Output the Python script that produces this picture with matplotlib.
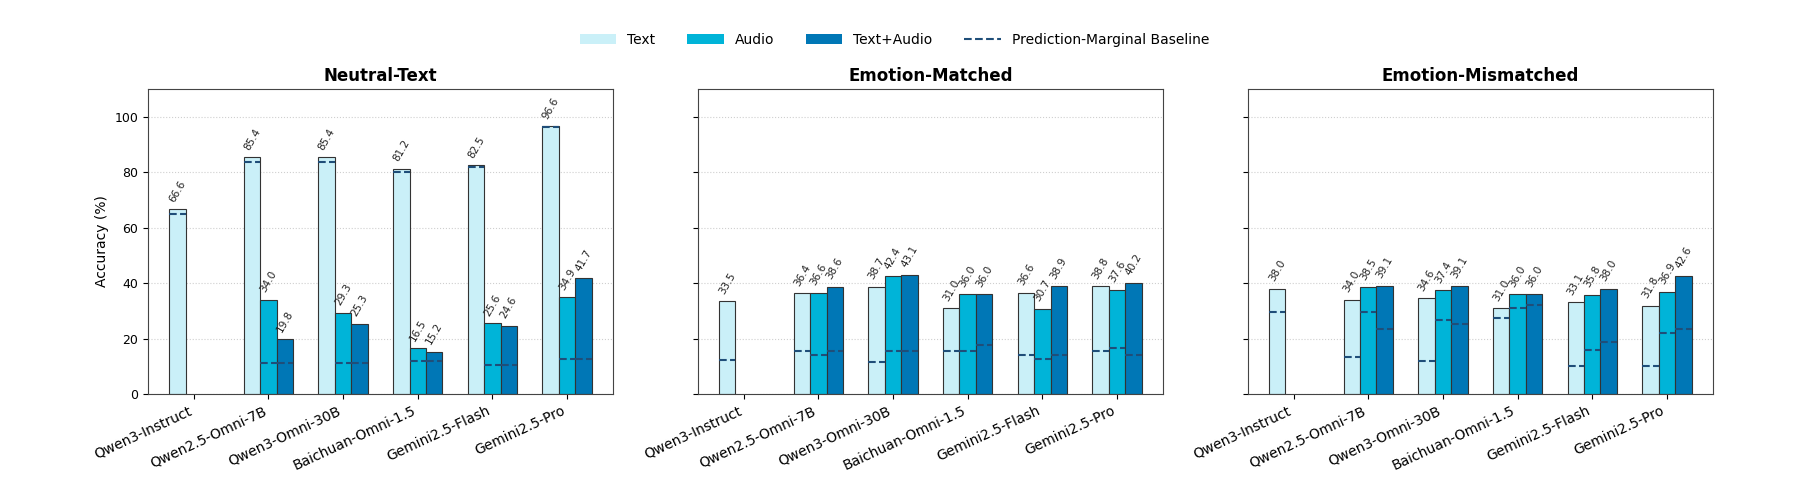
import matplotlib
matplotlib.use("Agg")
import matplotlib.pyplot as plt
from matplotlib.patches import Patch
from matplotlib.lines import Line2D
import numpy as np

models = ["Qwen3-Instruct", "Qwen2.5-Omni-7B", "Qwen3-Omni-30B",
          "Baichuan-Omni-1.5", "Gemini2.5-Flash", "Gemini2.5-Pro"]
conditions = ["Neutral-Text", "Emotion-Matched", "Emotion-Mismatched"]
modalities = ["Text", "Audio", "Text+Audio"]
nan = np.nan

# accuracy (%) -- Qwen3-Instruct is text only
neutral_text = [66.6, 85.4, 85.4, 81.2, 82.5, 96.6]
neutral_audio = [nan, 34.0, 29.3, 16.5, 25.6, 34.9]
neutral_both = [nan, 19.8, 25.3, 15.2, 24.6, 41.7]

matched_text = [33.5, 36.4, 38.7, 31.0, 36.6, 38.8]
matched_audio = [nan, 36.6, 42.4, 36.0, 30.7, 37.6]
matched_both = [nan, 38.6, 43.1, 36.0, 38.9, 40.2]

mismatched_text = [38.0, 34.0, 34.6, 31.0, 33.1, 31.8]
mismatched_audio = [nan, 38.5, 37.4, 36.0, 35.8, 36.9]
mismatched_both = [nan, 39.1, 39.1, 36.0, 38.0, 42.6]

# prediction-marginal baseline per bar
neutral_text_base = [65.0, 83.8, 83.8, 80.0, 81.8, 96.2]
neutral_audio_base = [nan, 11.3, 11.3, 12.0, 10.5, 12.5]
neutral_both_base = [nan, 11.3, 11.3, 12.0, 10.5, 12.5]

matched_text_base = [12.4, 15.6, 11.5, 15.6, 14.2, 15.6]
matched_audio_base = [nan, 14.2, 15.6, 15.6, 12.7, 16.6]
matched_both_base = [nan, 15.6, 15.6, 17.8, 14.2, 14.2]

mismatched_text_base = [29.7, 13.3, 12.1, 27.3, 10.0, 10.0]
mismatched_audio_base = [nan, 29.7, 26.7, 31.1, 15.8, 22.0]
mismatched_both_base = [nan, 23.6, 25.1, 32.1, 18.7, 23.3]

acc = [
    [neutral_text, neutral_audio, neutral_both],
    [matched_text, matched_audio, matched_both],
    [mismatched_text, mismatched_audio, mismatched_both],
]
base = [
    [neutral_text_base, neutral_audio_base, neutral_both_base],
    [matched_text_base, matched_audio_base, matched_both_base],
    [mismatched_text_base, mismatched_audio_base, mismatched_both_base],
]

colors = ["#caf0f8", "#00b4d8", "#0077b6"]
base_color = "#1f4e79"
w = 0.22

fig = plt.figure(figsize=(18, 4.97), dpi=100)
left, bottom, width, height, gap = 0.0822, 0.207, 0.2583, 0.614, 0.0472
axes = []
for k in range(3):
    if k == 0:
        ax = fig.add_axes([left, bottom, width, height])
    else:
        ax = fig.add_axes([left + k * (width + gap), bottom, width, height], sharey=axes[0])
    axes.append(ax)

x = np.arange(len(models))
for k, ax in enumerate(axes):
    for j in range(3):
        vals = np.array(acc[k][j], dtype=float)
        bvals = np.array(base[k][j], dtype=float)
        pos = x + (j - 1) * w
        ax.bar(pos, vals, w, color=colors[j], edgecolor="#333333", linewidth=0.8, zorder=2)
        ax.hlines(bvals, pos - w / 2, pos + w / 2, colors=base_color,
                  linestyles="--", linewidth=1.5, zorder=3)
        for p, v in zip(pos, vals):
            if np.isnan(v):
                continue
            ax.annotate(f"{v:.1f}", (p, v), xytext=(0, 4), textcoords="offset points",
                        ha="center", va="bottom", rotation=60, fontsize=7.5, color="#222222")
    ax.set_title(conditions[k], fontsize=12, fontweight="bold")
    ax.set_xticks(x)
    ax.set_xticklabels(models, rotation=25, ha="right", fontsize=10)
    ax.set_ylim(0, 110)
    ax.set_yticks([0, 20, 40, 60, 80, 100])
    ax.yaxis.grid(True, linestyle=":", color="#bbbbbb", alpha=0.7, linewidth=0.8)
    ax.set_axisbelow(True)
    ax.tick_params(axis="y", labelsize=9)
    for s in ax.spines.values():
        s.set_color("#444444")
    if k > 0:
        plt.setp(ax.get_yticklabels(), visible=False)

axes[0].set_ylabel("Accuracy (%)", fontsize=10)

handles = [Patch(facecolor=c, label=m) for c, m in zip(colors, modalities)]
handles.append(Line2D([0], [0], color=base_color, linestyle="--", linewidth=1.5,
                      label="Prediction-Marginal Baseline"))
fig.legend(handles=handles, loc="center", bbox_to_anchor=(0.497, 0.92), ncol=4,
           frameon=False, fontsize=10, handlelength=2.6, columnspacing=2.3)

fig.savefig("out.png", dpi=100)
